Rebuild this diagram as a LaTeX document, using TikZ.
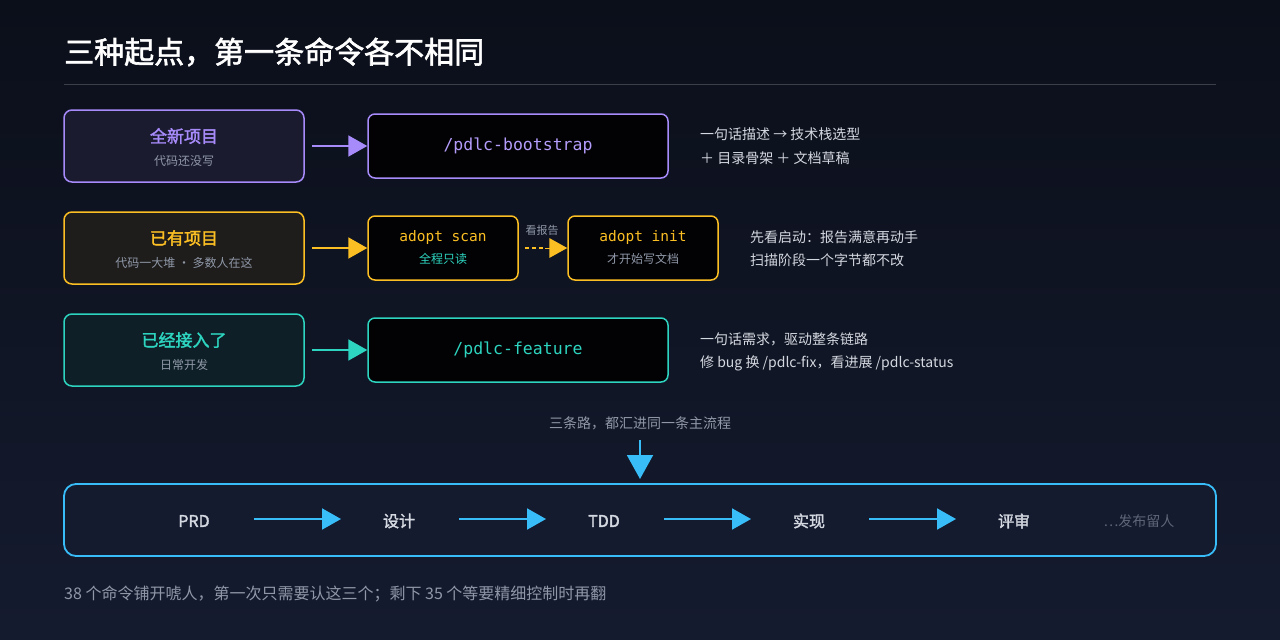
\documentclass[tikz,border=0pt]{standalone}
\usepackage{fontspec}
\setmainfont{Noto Sans CJK SC}
\newfontfamily\cjkb{Noto Sans CJK SC}[FakeBold=2]
\newfontfamily\codef{DejaVu Sans Mono}
\usetikzlibrary{arrows.meta}
\definecolor{bgA}{HTML}{0B0F1A}\definecolor{bgB}{HTML}{151B2F}
\definecolor{purp}{HTML}{A78BFA}\definecolor{yel}{HTML}{FBBF24}
\definecolor{teal}{HTML}{2DD4BF}\definecolor{blu}{HTML}{38BDF8}
\definecolor{txt}{HTML}{D4D8E0}\definecolor{mut}{HTML}{9098A8}
\begin{document}
\begin{tikzpicture}[x=1pt,y=-1pt,
 card/.style={draw=#1,line width=1.5pt,rounded corners=8pt},
 code/.style={draw=#1,line width=1.5pt,rounded corners=7pt,fill=black!85!bgA},
 arr/.style={draw=#1,line width=2pt,-{Triangle[length=19pt,width=21pt]}},
 side/.style={anchor=west,inner sep=0pt,text=txt,font=\fontsize{14}{16}\selectfont},
 sub/.style={text=mut,font=\fontsize{12}{14}\selectfont},
 ct/.style={font=\codef\fontsize{16.5}{18}\selectfont}]
\shade[top color=bgA,bottom color=bgB] (0,0) rectangle (1280,640);
\node[anchor=west,inner sep=0pt,text=white,font=\cjkb\fontsize{30}{34}\selectfont] (title) at (64,52) {三种起点，第一条命令各不相同};
\draw[color=white!20!bgA,line width=1pt] (64,84) -- (1216,84);
% row1
\draw[card=purp,fill=purp!10!bgA] (64,110) rectangle (304,182);
\node[text=purp,font=\cjkb\fontsize{17}{20}\selectfont] (t1) at (184,136) {全新项目};
\node[sub] (s1) at (184,161) {代码还没写};
\node[code=purp,minimum width=300pt,minimum height=64pt] (c1) at (518,146) {};
\node[ct,text=purp!85!white] at (c1) {/pdlc-bootstrap};
\coordinate (a1) at (312,146);
\draw[arr=purp] (a1) -- (c1.west);
\node[side] (r1a) at (700,134) {一句话描述 → 技术栈选型};
\node[side] (r1b) at (700,158) {＋ 目录骨架 ＋ 文档草稿};
% row2
\draw[card=yel,fill=yel!8!bgA] (64,212) rectangle (304,284);
\node[text=yel,font=\cjkb\fontsize{17}{20}\selectfont] (t2) at (184,238) {已有项目};
\node[sub] (s2) at (184,263) {代码一大堆 · 多数人在这};
\node[code=yel,minimum width=150pt,minimum height=64pt] (c2) at (443,248) {};
\node[font=\codef\fontsize{14.5}{16}\selectfont,text=yel] at (443,237) {adopt scan};
\node[sub,text=teal] at (443,259) {全程只读};
\node[code=yel,minimum width=150pt,minimum height=64pt] (c3) at (643,248) {};
\node[font=\codef\fontsize{14.5}{16}\selectfont,text=yel] at (643,237) {adopt init};
\node[sub] at (643,259) {才开始写文档};
\coordinate (a2) at (312,248);
\draw[arr=yel] (a2) -- (c2.west);
\draw[draw=yel,line width=2pt,dash pattern=on 4pt off 3pt] (c2.east)++(6,0) -- ++(20,0);
\draw[arr=yel,line width=0pt,-{Triangle[length=18pt,width=20pt]}] (545,248) -- (c3.west);
\node[text=mut,font=\fontsize{11}{12}\selectfont] (lb) at (542,230) {看报告};
\node[side] at (750,237) {先看启动：报告满意再动手};
\node[side] at (750,260) {扫描阶段一个字节都不改};
% row3
\draw[card=teal,fill=teal!8!bgA] (64,314) rectangle (304,386);
\node[text=teal,font=\cjkb\fontsize{17}{20}\selectfont] (t3) at (184,340) {已经接入了};
\node[sub] (s3) at (184,365) {日常开发};
\node[code=teal,minimum width=300pt,minimum height=64pt] (c4) at (518,350) {};
\node[ct,text=teal] at (c4) {/pdlc-feature};
\coordinate (a3) at (312,350);
\draw[arr=teal] (a3) -- (c4.west);
\node[side] at (700,339) {一句话需求，驱动整条链路};
\node[side] at (700,363) {修 bug 换 /pdlc-fix，看进展 /pdlc-status};
% merge
\node[text=mut,font=\fontsize{14}{16}\selectfont] (m) at (640,423) {三条路，都汇进同一条主流程};
\coordinate (d0) at (640,440);
\coordinate (d1) at (640,479);
\draw[arr=blu,-{Triangle[length=24pt,width=26pt]}] (d0) -- (d1);
\draw[card=blu,line width=1.8pt,rounded corners=12pt,fill=bgB] (64,484) rectangle (1216,556);
\foreach \n/\x/\t in {p1/194/PRD,p2/399/设计,p3/604/TDD,p4/809/实现,p5/1014/评审}
  \node[text=txt,font=\cjkb\fontsize{16}{18}\selectfont] (\n) at (\x,521) {\t};
\node[text=mut!60!bgB,font=\fontsize{14}{16}\selectfont] (p6) at (1139,521) {…发布留人};
\foreach \a/\b in {254/341,459/546,664/751,869/956}
  \draw[arr=blu] (\a,519) -- (\b,519);
\node[anchor=west,inner sep=0pt,text=mut,font=\fontsize{16}{18}\selectfont] (foot) at (64,594) {38 个命令铺开唬人，第一次只需要认这三个；剩下 35 个等要精细控制时再翻};
\end{tikzpicture}
\end{document}
